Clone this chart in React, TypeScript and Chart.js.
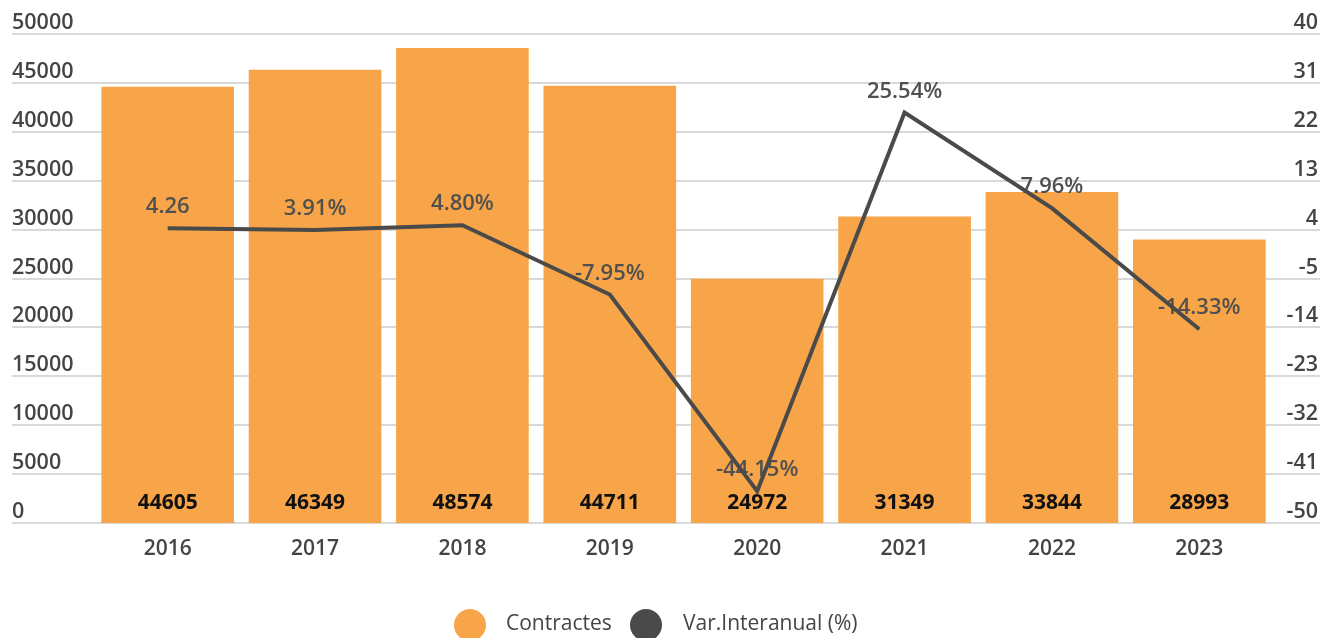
import React, { useEffect, useRef } from "react";
import { Chart, registerables } from "chart.js";

Chart.register(...registerables);

const years = ["2016", "2017", "2018", "2019", "2020", "2021", "2022", "2023"];
const contractes = [44605, 46349, 48574, 44711, 24972, 31349, 33844, 28993];
const variacio = [4.26, 3.91, 4.8, -7.95, -44.15, 25.54, 7.96, -14.33];
const variacioLabels = ["4.26", "3.91%", "4.80%", "-7.95%", "-44.15%", "25.54%", "7.96%", "-14.33%"];
const leftTicks = [0, 5000, 10000, 15000, 20000, 25000, 30000, 35000, 40000, 45000, 50000];
const rightTicks = [-50, -41, -32, -23, -14, -5, 4, 13, 22, 31, 40];
const seriesNames = ["Contractes", "Var.Interanual (%)"];

const ORANGE = "#F7A548";
const DARK = "#4A4A4A";
const FONT = "'Open Sans', 'Noto Sans', sans-serif";

const customPlugin = {
  id: "customDraw",
  beforeDatasetsDraw(chart: any) {
    const ctx = chart.ctx;
    const y = chart.scales.y;
    const y1 = chart.scales.y1;
    ctx.save();
    ctx.strokeStyle = "#D9D9D9";
    ctx.lineWidth = 2;
    leftTicks.forEach((v) => {
      const py = Math.round(y.getPixelForValue(v));
      ctx.beginPath();
      ctx.moveTo(12, py);
      ctx.lineTo(1320, py);
      ctx.stroke();
    });
    ctx.fillStyle = "#444444";
    ctx.font = `600 21.5px ${FONT}`;
    ctx.textBaseline = "alphabetic";
    ctx.textAlign = "left";
    leftTicks.forEach((v) => {
      const py = y.getPixelForValue(v);
      ctx.fillText(String(v), 12, py - 5);
    });
    ctx.textAlign = "right";
    rightTicks.forEach((v) => {
      const py = y1.getPixelForValue(v);
      ctx.fillText(String(v), 1318, py - 5);
    });
    ctx.restore();
  },
  afterDatasetDraw(chart: any, args: any) {
    if (args.index !== 0) return;
    const ctx = chart.ctx;
    const x = chart.scales.x;
    const y = chart.scales.y;
    const y1 = chart.scales.y1;
    ctx.save();
    ctx.textAlign = "center";
    ctx.textBaseline = "alphabetic";
    ctx.font = `700 21px ${FONT}`;
    ctx.fillStyle = "#111111";
    contractes.forEach((v, i) => {
      const px = x.getPixelForValue(i);
      ctx.fillText(String(v), px, y.getPixelForValue(0) - 14);
    });
    ctx.font = `600 22px ${FONT}`;
    ctx.fillStyle = "#505050";
    variacio.forEach((v, i) => {
      const px = x.getPixelForValue(i);
      ctx.fillText(variacioLabels[i], px, y1.getPixelForValue(v) - 15);
    });
    ctx.restore();
  },
  afterDraw(chart: any) {
    const ctx = chart.ctx;
    const x = chart.scales.x;
    ctx.save();
    ctx.textAlign = "center";
    ctx.textBaseline = "alphabetic";
    ctx.font = `600 21px ${FONT}`;
    ctx.fillStyle = "#444444";
    years.forEach((lab, i) => {
      ctx.fillText(lab, x.getPixelForValue(i), 555);
    });
    // legend
    ctx.font = `500 21px ${FONT}`;
    ctx.textAlign = "left";
    ctx.textBaseline = "middle";
    const colors = [ORANGE, DARK];
    const circleX = [470, 646];
    const textX = [506, 683];
    seriesNames.forEach((name, i) => {
      ctx.fillStyle = colors[i];
      ctx.beginPath();
      ctx.arc(circleX[i], 625, 16, 0, Math.PI * 2);
      ctx.fill();
      ctx.fillStyle = "#444444";
      ctx.fillText(name, textX[i], 624);
    });
    ctx.restore();
  },
};

export default function App() {
  const ref = useRef<HTMLCanvasElement>(null);
  useEffect(() => {
    if (!ref.current) return;
    const chart = new Chart(ref.current, {
      type: "bar",
      data: {
        labels: years,
        datasets: [
          {
            type: "bar",
            label: seriesNames[0],
            data: contractes,
            backgroundColor: ORANGE,
            barPercentage: 0.9,
            categoryPercentage: 1,
            yAxisID: "y",
            order: 2,
          },
          {
            type: "line",
            label: seriesNames[1],
            data: variacio,
            borderColor: DARK,
            backgroundColor: DARK,
            borderWidth: 4,
            pointRadius: 0,
            tension: 0,
            yAxisID: "y1",
            order: 1,
          },
        ],
      } as any,
      options: {
        responsive: false,
        animation: false,
        layout: { padding: { left: 94, right: 48, top: 34, bottom: 115 } },
        plugins: { legend: { display: false }, tooltip: { enabled: false } },
        scales: {
          x: { display: false },
          y: { display: false, min: 0, max: 50000 },
          y1: { display: false, min: -50, max: 40, position: "right" },
        },
      } as any,
      plugins: [customPlugin],
    });
    return () => chart.destroy();
  }, []);
  return (
    <div style={{ position: "fixed", left: 0, top: 0, width: 1321, height: 638, background: "#fff" }}>
      <canvas ref={ref} width={1321} height={638} style={{ width: 1321, height: 638, display: "block" }} />
    </div>
  );
}
